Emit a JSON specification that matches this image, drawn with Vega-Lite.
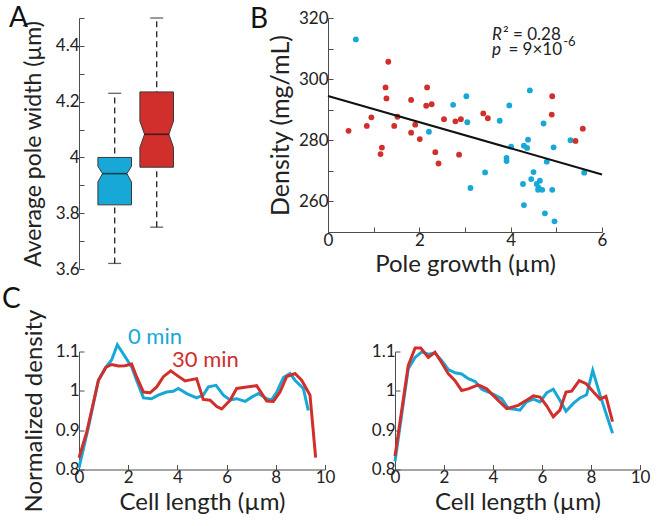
{
  "$schema": "https://vega.github.io/schema/vega-lite/v6.json",
  "background": "white",
  "autosize": {"type": "pad"},
  "padding": {"left": 2, "top": 5, "right": 5, "bottom": 5},
  "config": {
    "view": {"stroke": null},
    "font": "Lato",
    "axis": {
      "domainColor": "#4d4d4d", "domainWidth": 1,
      "tickColor": "#4d4d4d", "tickWidth": 1, "tickSize": -5,
      "labelFont": "Lato", "labelFontSize": 17, "labelColor": "#222",
      "titleFont": "Lato", "titleFontSize": 23, "titleFontWeight": "normal", "titleColor": "#222",
      "grid": false, "labelPadding": 5, "labelFlush": false, "labelOverlap": false
    }
  },
  "datasets": {
    "boxes": [
      {"time": "0 min", "pos": 1, "whisker_low": 3.62, "q1": 3.83, "median": 3.942, "q3": 4.0, "whisker_high": 4.23},
      {"time": "30 min", "pos": 2, "whisker_low": 3.75, "q1": 3.965, "median": 4.083, "q3": 4.235, "whisker_high": 4.5}
    ],
    "notch": [
      {"time": "0 min", "value": 3.83, "left": 0.6, "right": 1.4},
      {"time": "0 min", "value": 3.912, "left": 0.6, "right": 1.4},
      {"time": "0 min", "value": 3.942, "left": 0.71, "right": 1.29},
      {"time": "0 min", "value": 3.968, "left": 0.6, "right": 1.4},
      {"time": "0 min", "value": 4.0, "left": 0.6, "right": 1.4},
      {"time": "30 min", "value": 3.965, "left": 1.6, "right": 2.4},
      {"time": "30 min", "value": 4.036, "left": 1.6, "right": 2.4},
      {"time": "30 min", "value": 4.083, "left": 1.71, "right": 2.29},
      {"time": "30 min", "value": 4.13, "left": 1.6, "right": 2.4},
      {"time": "30 min", "value": 4.235, "left": 1.6, "right": 2.4}
    ],
    "scatter": [
      {"time": "0 min", "growth": 0.61, "density": 313.0},
      {"time": "0 min", "growth": 2.21, "density": 282.8},
      {"time": "0 min", "growth": 2.74, "density": 291.6},
      {"time": "0 min", "growth": 3.03, "density": 294.4},
      {"time": "0 min", "growth": 3.05, "density": 285.9},
      {"time": "0 min", "growth": 3.12, "density": 264.4},
      {"time": "0 min", "growth": 3.44, "density": 269.5},
      {"time": "0 min", "growth": 3.76, "density": 286.4},
      {"time": "0 min", "growth": 3.97, "density": 291.4},
      {"time": "0 min", "growth": 4.01, "density": 277.9},
      {"time": "0 min", "growth": 3.91, "density": 274.2},
      {"time": "0 min", "growth": 3.91, "density": 273.2},
      {"time": "0 min", "growth": 4.42, "density": 296.3},
      {"time": "0 min", "growth": 4.27, "density": 265.7},
      {"time": "0 min", "growth": 4.29, "density": 258.8},
      {"time": "0 min", "growth": 4.29, "density": 278.2},
      {"time": "0 min", "growth": 4.36, "density": 277.5},
      {"time": "0 min", "growth": 4.38, "density": 280.2},
      {"time": "0 min", "growth": 4.5, "density": 269.6},
      {"time": "0 min", "growth": 4.45, "density": 267.3},
      {"time": "0 min", "growth": 4.64, "density": 266.8},
      {"time": "0 min", "growth": 4.57, "density": 265.7},
      {"time": "0 min", "growth": 4.61, "density": 264.5},
      {"time": "0 min", "growth": 4.6, "density": 263.8},
      {"time": "0 min", "growth": 4.69, "density": 263.8},
      {"time": "0 min", "growth": 4.72, "density": 285.5},
      {"time": "0 min", "growth": 4.79, "density": 273.0},
      {"time": "0 min", "growth": 4.75, "density": 256.1},
      {"time": "0 min", "growth": 4.91, "density": 263.8},
      {"time": "0 min", "growth": 4.94, "density": 277.7},
      {"time": "0 min", "growth": 4.96, "density": 253.5},
      {"time": "0 min", "growth": 5.31, "density": 280.0},
      {"time": "0 min", "growth": 5.61, "density": 269.4},
      {"time": "30 min", "growth": 0.45, "density": 283.1},
      {"time": "30 min", "growth": 0.85, "density": 284.7},
      {"time": "30 min", "growth": 0.95, "density": 287.5},
      {"time": "30 min", "growth": 1.15, "density": 275.5},
      {"time": "30 min", "growth": 1.18, "density": 277.6},
      {"time": "30 min", "growth": 1.26, "density": 297.3},
      {"time": "30 min", "growth": 1.28, "density": 293.7},
      {"time": "30 min", "growth": 1.32, "density": 305.7},
      {"time": "30 min", "growth": 1.45, "density": 284.7},
      {"time": "30 min", "growth": 1.52, "density": 287.7},
      {"time": "30 min", "growth": 1.82, "density": 293.2},
      {"time": "30 min", "growth": 1.82, "density": 282.5},
      {"time": "30 min", "growth": 1.91, "density": 285.1},
      {"time": "30 min", "growth": 2.01, "density": 280.4},
      {"time": "30 min", "growth": 2.17, "density": 297.3},
      {"time": "30 min", "growth": 2.15, "density": 291.3},
      {"time": "30 min", "growth": 2.27, "density": 291.8},
      {"time": "30 min", "growth": 2.35, "density": 276.1},
      {"time": "30 min", "growth": 2.42, "density": 272.4},
      {"time": "30 min", "growth": 2.54, "density": 286.9},
      {"time": "30 min", "growth": 2.79, "density": 286.2},
      {"time": "30 min", "growth": 2.91, "density": 286.9},
      {"time": "30 min", "growth": 2.87, "density": 275.3},
      {"time": "30 min", "growth": 3.4, "density": 288.8},
      {"time": "30 min", "growth": 3.5, "density": 287.2},
      {"time": "30 min", "growth": 4.91, "density": 294.4},
      {"time": "30 min", "growth": 4.9, "density": 288.4},
      {"time": "30 min", "growth": 5.42, "density": 279.8},
      {"time": "30 min", "growth": 5.58, "density": 283.8}
    ],
    "fit": [
      {"growth": 0, "density": 294.5},
      {"growth": 6, "density": 268.8}
    ],
    "profile_left": [
      {"time": "0 min", "x": 0, "y": 0.804}, {"time": "0 min", "x": 0.38, "y": 0.907}, {"time": "0 min", "x": 0.79, "y": 1.027},
      {"time": "0 min", "x": 1.06, "y": 1.057}, {"time": "0 min", "x": 1.33, "y": 1.079}, {"time": "0 min", "x": 1.56, "y": 1.117},
      {"time": "0 min", "x": 1.83, "y": 1.091}, {"time": "0 min", "x": 2.14, "y": 1.061}, {"time": "0 min", "x": 2.34, "y": 1.027},
      {"time": "0 min", "x": 2.62, "y": 0.982}, {"time": "0 min", "x": 2.95, "y": 0.98}, {"time": "0 min", "x": 3.22, "y": 0.989},
      {"time": "0 min", "x": 3.56, "y": 0.997}, {"time": "0 min", "x": 3.83, "y": 0.999}, {"time": "0 min", "x": 4.04, "y": 1.006},
      {"time": "0 min", "x": 4.38, "y": 0.993}, {"time": "0 min", "x": 4.78, "y": 0.982}, {"time": "0 min", "x": 5.05, "y": 0.989},
      {"time": "0 min", "x": 5.26, "y": 1.01}, {"time": "0 min", "x": 5.57, "y": 1.014}, {"time": "0 min", "x": 5.87, "y": 0.989},
      {"time": "0 min", "x": 6.14, "y": 0.977}, {"time": "0 min", "x": 6.41, "y": 0.98}, {"time": "0 min", "x": 6.75, "y": 0.973},
      {"time": "0 min", "x": 7.02, "y": 0.984}, {"time": "0 min", "x": 7.29, "y": 0.993}, {"time": "0 min", "x": 7.63, "y": 0.98},
      {"time": "0 min", "x": 7.83, "y": 0.977}, {"time": "0 min", "x": 8.04, "y": 0.997}, {"time": "0 min", "x": 8.31, "y": 1.034},
      {"time": "0 min", "x": 8.58, "y": 1.044}, {"time": "0 min", "x": 8.78, "y": 1.027}, {"time": "0 min", "x": 9.12, "y": 1.006},
      {"time": "0 min", "x": 9.32, "y": 0.95},
      {"time": "30 min", "x": 0, "y": 0.83}, {"time": "30 min", "x": 0.31, "y": 0.894}, {"time": "30 min", "x": 0.79, "y": 1.027},
      {"time": "30 min", "x": 1.1, "y": 1.06}, {"time": "30 min", "x": 1.33, "y": 1.067}, {"time": "30 min", "x": 1.6, "y": 1.063},
      {"time": "30 min", "x": 1.87, "y": 1.064}, {"time": "30 min", "x": 2.14, "y": 1.068}, {"time": "30 min", "x": 2.34, "y": 1.036},
      {"time": "30 min", "x": 2.62, "y": 0.997}, {"time": "30 min", "x": 2.89, "y": 0.995}, {"time": "30 min", "x": 3.16, "y": 1.01},
      {"time": "30 min", "x": 3.43, "y": 1.036}, {"time": "30 min", "x": 3.73, "y": 1.051}, {"time": "30 min", "x": 3.97, "y": 1.04},
      {"time": "30 min", "x": 4.31, "y": 1.025}, {"time": "30 min", "x": 4.78, "y": 1.031}, {"time": "30 min", "x": 5.05, "y": 0.978},
      {"time": "30 min", "x": 5.33, "y": 0.976}, {"time": "30 min", "x": 5.6, "y": 0.96}, {"time": "30 min", "x": 5.8, "y": 0.954},
      {"time": "30 min", "x": 6.14, "y": 0.976}, {"time": "30 min", "x": 6.41, "y": 1.006}, {"time": "30 min", "x": 6.82, "y": 1.01},
      {"time": "30 min", "x": 7.22, "y": 1.013}, {"time": "30 min", "x": 7.63, "y": 0.974}, {"time": "30 min", "x": 7.9, "y": 0.973},
      {"time": "30 min", "x": 8.17, "y": 0.997}, {"time": "30 min", "x": 8.44, "y": 1.036}, {"time": "30 min", "x": 8.78, "y": 1.044},
      {"time": "30 min", "x": 9.05, "y": 1.027}, {"time": "30 min", "x": 9.32, "y": 0.997}, {"time": "30 min", "x": 9.39, "y": 0.989},
      {"time": "30 min", "x": 9.62, "y": 0.83}
    ],
    "profile_right": [
      {"time": "0 min", "x": 0, "y": 0.821}, {"time": "0 min", "x": 0.54, "y": 1.056}, {"time": "0 min", "x": 0.82, "y": 1.085},
      {"time": "0 min", "x": 1.09, "y": 1.099}, {"time": "0 min", "x": 1.36, "y": 1.093}, {"time": "0 min", "x": 1.63, "y": 1.096},
      {"time": "0 min", "x": 1.9, "y": 1.077}, {"time": "0 min", "x": 2.18, "y": 1.054}, {"time": "0 min", "x": 2.45, "y": 1.046},
      {"time": "0 min", "x": 2.72, "y": 1.043}, {"time": "0 min", "x": 2.99, "y": 1.031}, {"time": "0 min", "x": 3.27, "y": 1.024},
      {"time": "0 min", "x": 3.54, "y": 1.004}, {"time": "0 min", "x": 3.81, "y": 0.997}, {"time": "0 min", "x": 4.08, "y": 0.989},
      {"time": "0 min", "x": 4.35, "y": 0.98}, {"time": "0 min", "x": 4.63, "y": 0.955}, {"time": "0 min", "x": 4.9, "y": 0.953},
      {"time": "0 min", "x": 5.1, "y": 0.951}, {"time": "0 min", "x": 5.37, "y": 0.972}, {"time": "0 min", "x": 5.65, "y": 0.979},
      {"time": "0 min", "x": 5.92, "y": 0.972}, {"time": "0 min", "x": 6.19, "y": 0.995}, {"time": "0 min", "x": 6.46, "y": 1.004},
      {"time": "0 min", "x": 6.73, "y": 0.976}, {"time": "0 min", "x": 6.98, "y": 0.948}, {"time": "0 min", "x": 7.28, "y": 0.968},
      {"time": "0 min", "x": 7.55, "y": 0.982}, {"time": "0 min", "x": 7.82, "y": 0.99}, {"time": "0 min", "x": 8.07, "y": 1.052},
      {"time": "0 min", "x": 8.37, "y": 0.989}, {"time": "0 min", "x": 8.88, "y": 0.892},
      {"time": "30 min", "x": 0, "y": 0.834}, {"time": "30 min", "x": 0.54, "y": 1.064}, {"time": "30 min", "x": 0.82, "y": 1.109},
      {"time": "30 min", "x": 1.05, "y": 1.109}, {"time": "30 min", "x": 1.36, "y": 1.085}, {"time": "30 min", "x": 1.63, "y": 1.098},
      {"time": "30 min", "x": 1.9, "y": 1.072}, {"time": "30 min", "x": 2.18, "y": 1.043}, {"time": "30 min", "x": 2.45, "y": 1.026},
      {"time": "30 min", "x": 2.72, "y": 1.001}, {"time": "30 min", "x": 2.99, "y": 1.005}, {"time": "30 min", "x": 3.4, "y": 1.015},
      {"time": "30 min", "x": 3.74, "y": 1.005}, {"time": "30 min", "x": 4.08, "y": 0.984}, {"time": "30 min", "x": 4.56, "y": 0.955},
      {"time": "30 min", "x": 5.03, "y": 0.963}, {"time": "30 min", "x": 5.37, "y": 0.976}, {"time": "30 min", "x": 5.65, "y": 0.987},
      {"time": "30 min", "x": 5.92, "y": 0.984}, {"time": "30 min", "x": 6.19, "y": 0.962}, {"time": "30 min", "x": 6.46, "y": 0.934},
      {"time": "30 min", "x": 6.73, "y": 0.951}, {"time": "30 min", "x": 6.98, "y": 0.997}, {"time": "30 min", "x": 7.21, "y": 0.999},
      {"time": "30 min", "x": 7.52, "y": 1.026}, {"time": "30 min", "x": 7.8, "y": 1.018}, {"time": "30 min", "x": 8.1, "y": 0.997},
      {"time": "30 min", "x": 8.37, "y": 0.979}, {"time": "30 min", "x": 8.61, "y": 0.986}, {"time": "30 min", "x": 8.88, "y": 0.922}
    ]
  },
  "spacing": 8.5,
  "vconcat": [
    {
      "bounds": "flush",
      "spacing": 144,
      "hconcat": [
        {
          "width": 105,
          "height": 251,
          "resolve": {"axis": {"x": "independent", "y": "independent"}},
          "layer": [
            {
              "data": {"name": "boxes"},
              "mark": {"type": "rule", "strokeDash": [6, 4], "strokeWidth": 1.3, "color": "#222"},
              "encoding": {
                "x": {"field": "pos", "type": "quantitative", "scale": {"domain": [0.15, 2.65], "nice": false, "zero": false}, "axis": null},
                "y": {"field": "whisker_low", "type": "quantitative", "scale": {"domain": [3.6, 4.5], "nice": false, "zero": false},
                  "axis": {"title": "Average pole width (µm)", "values": [3.6, 3.7, 3.8, 3.9, 4.0, 4.1, 4.2, 4.3, 4.4, 4.5],
                    "labelExpr": "round(datum.value*10) % 2 == 0 ? format(datum.value, '~g') : ''", "titlePadding": 10, "titleFontSize": 23, "labelOverlap": false}},
                "y2": {"field": "whisker_high"}
              }
            },
            {
              "data": {"name": "boxes"},
              "mark": {"type": "tick", "orient": "horizontal", "size": 13, "thickness": 1.3, "color": "#222"},
              "encoding": {
                "x": {"field": "pos", "type": "quantitative", "axis": null},
                "y": {"field": "whisker_low", "type": "quantitative", "axis": null}
              }
            },
            {
              "data": {"name": "boxes"},
              "mark": {"type": "tick", "orient": "horizontal", "size": 13, "thickness": 1.3, "color": "#222"},
              "encoding": {
                "x": {"field": "pos", "type": "quantitative", "axis": null},
                "y": {"field": "whisker_high", "type": "quantitative", "axis": null}
              }
            },
            {
              "data": {"name": "notch"},
              "mark": {"type": "area", "orient": "horizontal", "stroke": "#3a3a3a", "strokeWidth": 1, "opacity": 1},
              "encoding": {
                "y": {"field": "value", "type": "quantitative", "axis": null},
                "x": {"field": "left", "type": "quantitative", "axis": null},
                "x2": {"field": "right"},
                "color": {"field": "time", "type": "nominal", "scale": {"domain": ["0 min", "30 min"], "range": ["#17a8d7", "#d02f2c"]}, "legend": null}
              }
            },
            {
              "data": {"name": "boxes"},
              "mark": {"type": "tick", "orient": "horizontal", "size": 25, "thickness": 1.6, "color": "#111"},
              "encoding": {
                "x": {"field": "pos", "type": "quantitative", "axis": null},
                "y": {"field": "median", "type": "quantitative", "axis": null}
              }
            },
            {
              "data": {"values": [{}]},
              "mark": {"type": "text", "fontSize": 28, "align": "left", "baseline": "alphabetic", "color": "#111", "font": "Lato"},
              "encoding": {"x": {"datum": -1.517, "axis": null}, "y": {"datum": 4.466, "axis": null}, "text": {"value": "A"}}
            }
          ]
        },
        {
          "width": 274,
          "height": 214,
          "resolve": {"axis": {"x": "independent", "y": "independent"}},
          "layer": [
            {
              "data": {"name": "scatter"},
              "mark": {"type": "circle", "size": 34, "opacity": 1},
              "encoding": {
                "x": {"field": "growth", "type": "quantitative", "scale": {"domain": [0, 6], "nice": false, "zero": false},
                  "axis": {"title": "Pole growth (µm)", "values": [0, 1, 2, 3, 4, 5, 6], "labelExpr": "datum.value % 2 == 0 ? datum.label : ''", "titlePadding": 4, "titleFontSize": 24, "labelOverlap": false}},
                "y": {"field": "density", "type": "quantitative", "scale": {"domain": [250, 320], "nice": false, "zero": false},
                  "axis": {"title": "Density (mg/mL)", "values": [250, 260, 270, 280, 290, 300, 310, 320], "labelExpr": "datum.value % 20 == 0 ? datum.label : ''", "titlePadding": 5, "titleFontSize": 25, "labelOverlap": false}},
                "color": {"field": "time", "type": "nominal", "scale": {"domain": ["0 min", "30 min"], "range": ["#17a8d7", "#d02f2c"]}, "legend": null}
              }
            },
            {
              "data": {"name": "fit"},
              "mark": {"type": "line", "color": "#111", "strokeWidth": 2},
              "encoding": {
                "x": {"field": "growth", "type": "quantitative", "axis": null},
                "y": {"field": "density", "type": "quantitative", "axis": null}
              }
            },
            {
              "data": {"values": [{}]},
              "mark": {"type": "text", "fontSize": 28, "align": "left", "baseline": "alphabetic", "color": "#111", "font": "Lato"},
              "encoding": {"x": {"datum": -1.708, "axis": null}, "y": {"datum": 316.6, "axis": null}, "text": {"value": "B"}}
            },
            {
              "data": {"values": [{}]},
              "mark": {"type": "text", "fontSize": 17, "fontStyle": "italic", "align": "left", "baseline": "alphabetic", "color": "#222", "font": "Lato"},
              "encoding": {"x": {"datum": 3.59, "axis": null}, "y": {"datum": 312.8, "axis": null}, "text": {"value": "R"}}
            },
            {
              "data": {"values": [{}]},
              "mark": {"type": "text", "fontSize": 17, "align": "left", "baseline": "alphabetic", "color": "#222", "font": "Lato"},
              "encoding": {"x": {"datum": 3.83, "axis": null}, "y": {"datum": 312.8, "axis": null}, "text": {"value": "² = 0.28"}}
            },
            {
              "data": {"values": [{}]},
              "mark": {"type": "text", "fontSize": 17, "fontStyle": "italic", "align": "left", "baseline": "alphabetic", "color": "#222", "font": "Lato"},
              "encoding": {"x": {"datum": 3.59, "axis": null}, "y": {"datum": 307.9, "axis": null}, "text": {"value": "p"}}
            },
            {
              "data": {"values": [{}]},
              "mark": {"type": "text", "fontSize": 17, "align": "left", "baseline": "alphabetic", "color": "#222", "font": "Lato"},
              "encoding": {"x": {"datum": 3.95, "axis": null}, "y": {"datum": 307.9, "axis": null}, "text": {"value": "= 9×10"}}
            },
            {
              "data": {"values": [{}]},
              "mark": {"type": "text", "fontSize": 13, "align": "left", "baseline": "alphabetic", "color": "#222", "font": "Lato"},
              "encoding": {"x": {"datum": 5.15, "axis": null}, "y": {"datum": 310.8, "axis": null}, "text": {"value": "-6"}}
            }
          ]
        }
      ]
    },
    {
      "bounds": "flush",
      "spacing": 70,
      "hconcat": [
        {
          "width": 246,
          "height": 118,
          "resolve": {"axis": {"x": "independent", "y": "independent"}},
          "layer": [
            {
              "data": {"name": "profile_left"},
              "mark": {"type": "line", "strokeWidth": 3},
              "encoding": {
                "x": {"field": "x", "type": "quantitative", "scale": {"domain": [0, 10], "nice": false, "zero": false},
                  "axis": {"title": "Cell length (µm)", "values": [0, 2, 4, 6, 8, 10], "titlePadding": 5, "titleFontSize": 24, "labelOverlap": false}},
                "y": {"field": "y", "type": "quantitative", "scale": {"domain": [0.8, 1.1], "nice": false, "zero": false},
                  "axis": {"title": "Normalized density", "values": [0.8, 0.9, 1, 1.1], "labelExpr": "format(datum.value, '~g')", "titlePadding": 9, "titleFontSize": 24, "labelOverlap": false}},
                "color": {"field": "time", "type": "nominal", "scale": {"domain": ["0 min", "30 min"], "range": ["#17a8d7", "#d02f2c"]}, "legend": null}
              }
            },
            {
              "data": {"values": [{}]},
              "mark": {"type": "text", "fontSize": 28, "align": "left", "baseline": "alphabetic", "color": "#111", "font": "Lato"},
              "encoding": {"x": {"datum": -3.13, "axis": null}, "y": {"datum": 1.2106, "axis": null}, "text": {"value": "C"}}
            },
            {
              "data": {"values": [{}]},
              "mark": {"type": "text", "fontSize": 22, "align": "left", "baseline": "alphabetic", "font": "Lato"},
              "encoding": {"x": {"datum": 1.99, "axis": null}, "y": {"datum": 1.119, "axis": null}, "text": {"value": "0 min"},
                "color": {"datum": "0 min", "scale": {"domain": ["0 min", "30 min"], "range": ["#17a8d7", "#d02f2c"]}, "legend": null}}
            },
            {
              "data": {"values": [{}]},
              "mark": {"type": "text", "fontSize": 22, "align": "left", "baseline": "alphabetic", "font": "Lato"},
              "encoding": {"x": {"datum": 3.78, "axis": null}, "y": {"datum": 1.0606, "axis": null}, "text": {"value": "30 min"},
                "color": {"datum": "30 min", "scale": {"domain": ["0 min", "30 min"], "range": ["#17a8d7", "#d02f2c"]}, "legend": null}}
            }
          ]
        },
        {
          "width": 245,
          "height": 118,
          "layer": [
            {
              "data": {"name": "profile_right"},
              "mark": {"type": "line", "strokeWidth": 3},
              "encoding": {
                "x": {"field": "x", "type": "quantitative", "scale": {"domain": [0, 10], "nice": false, "zero": false},
                  "axis": {"title": "Cell length (µm)", "values": [0, 2, 4, 6, 8, 10], "titlePadding": 5, "titleFontSize": 24, "labelOverlap": false}},
                "y": {"field": "y", "type": "quantitative", "scale": {"domain": [0.8, 1.1], "nice": false, "zero": false},
                  "axis": {"title": null, "values": [0.8, 0.9, 1, 1.1], "labelExpr": "format(datum.value, '~g')", "labelOverlap": false}},
                "color": {"field": "time", "type": "nominal", "scale": {"domain": ["0 min", "30 min"], "range": ["#17a8d7", "#d02f2c"]}, "legend": null}
              }
            }
          ]
        }
      ]
    }
  ]
}
